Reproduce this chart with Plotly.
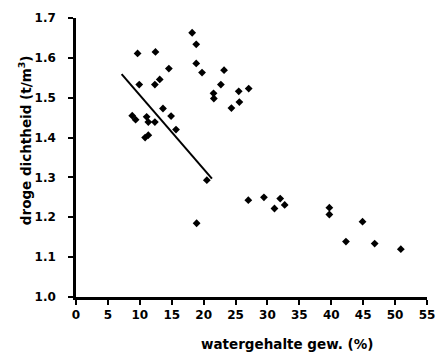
import plotly.graph_objects as go

water = [9.65, 12.45, 14.55, 9.91, 12.36, 13.12, 13.63, 14.9, 8.81, 9.34, 11.07, 11.33, 12.36,
         11.33, 10.83, 15.67,
         18.2, 18.84, 18.84, 19.75, 23.2, 22.7, 21.55, 21.6, 25.5, 27.06, 25.6, 24.35,
         20.5, 18.9, 27.0, 29.45, 32.0, 31.1, 32.7, 39.7, 39.7, 44.9, 42.3, 46.8, 50.9]
dichtheid = [1.611, 1.615, 1.573, 1.533, 1.533, 1.546, 1.473, 1.454, 1.455, 1.445, 1.452, 1.439, 1.439,
             1.406, 1.400, 1.420,
             1.663, 1.634, 1.586, 1.563, 1.569, 1.533, 1.511, 1.498, 1.516, 1.523, 1.489, 1.474,
             1.293, 1.185, 1.243, 1.250, 1.247, 1.222, 1.231, 1.224, 1.207, 1.189, 1.139, 1.134, 1.120]

fit_x = [7.15, 21.3]
fit_y = [1.559, 1.297]

x_ticks = [0, 5, 10, 15, 20, 25, 30, 35, 40, 45, 50, 55]
y_ticks = [1.0, 1.1, 1.2, 1.3, 1.4, 1.5, 1.6, 1.7]

font = "DejaVu Sans"

fig = go.Figure()
fig.add_trace(go.Scatter(x=water, y=dichtheid, mode="markers",
                         marker=dict(symbol="diamond", size=6, color="black"),
                         showlegend=False))
fig.add_trace(go.Scatter(x=fit_x, y=fit_y, mode="lines",
                         line=dict(color="black", width=2), showlegend=False))

fig.update_layout(
    width=445, height=354,
    margin=dict(l=76, r=10, t=18, b=57),
    paper_bgcolor="white", plot_bgcolor="white",
    font=dict(family=font, size=12, color="black"),
    xaxis=dict(range=[0, 55], tickvals=x_ticks, ticktext=[str(v) for v in x_ticks],
               showline=True, linecolor="black", linewidth=2.5, showgrid=False, zeroline=False,
               ticks="outside", ticklen=5, tickwidth=1.5, tickcolor="black",
               tickfont=dict(family=font, size=12, color="black", weight="bold")),
    yaxis=dict(range=[1.0, 1.7], tickvals=y_ticks, ticktext=[f"{v:.1f}" for v in y_ticks],
               showline=True, linecolor="black", linewidth=2.5, showgrid=False, zeroline=False,
               ticks="outside", ticklen=5, tickwidth=1.5, tickcolor="black",
               ticklabelstandoff=10,
               tickfont=dict(family=font, size=12, color="black", weight="bold")),
)

fig.add_annotation(text="watergehalte gew. (%)", xref="paper", yref="paper",
                   x=(292 - 76) / 359, y=-(344 - 297) / 279, showarrow=False,
                   font=dict(family=font, size=13.5, color="black", weight="bold"),
                   xanchor="center", yanchor="middle")
fig.add_annotation(text="droge dichtheid (t/m<sup>3</sup>)", xref="paper", yref="paper",
                   x=-(76 - 24) / 359, y=(297 - 140) / 279, showarrow=False, textangle=-90,
                   font=dict(family=font, size=13.5, color="black", weight="bold"),
                   xanchor="center", yanchor="middle")

fig.write_html("out.html")
